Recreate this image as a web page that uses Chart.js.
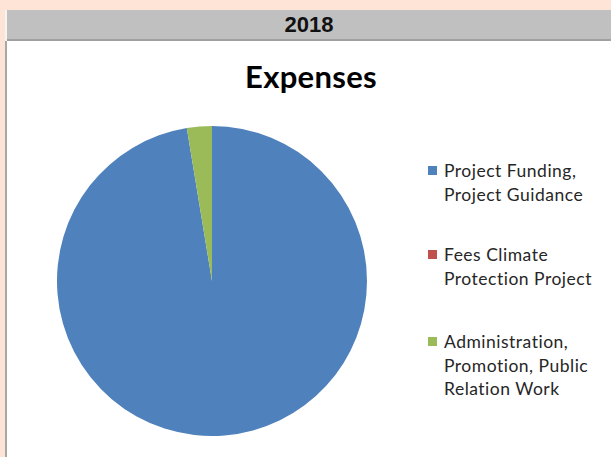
<!DOCTYPE html>
<html>
<head>
<meta charset="utf-8">
<script src="https://cdn.jsdelivr.net/npm/chart.js@4/dist/chart.umd.min.js"></script>
<style>
  html, body { margin: 0; padding: 0; }
  body { width: 611px; height: 457px; position: relative; overflow: hidden; background: #fde4d6; }
  #header { position: absolute; left: 7px; top: 10px; width: 604px; height: 29px; background: #c0c0c0;
    border-bottom: 2px solid #a0a0a0; font: bold 22px "Liberation Sans", Arial, sans-serif; color: #111;
    text-align: center; line-height: 29px; }
  #hedge { position: absolute; left: 5px; top: 10px; width: 2px; height: 31px; background: #f4f4f4; }
  #panel { position: absolute; left: 5px; top: 41px; width: 606px; height: 416px; background: #fff;
    border-left: 2px solid #a8a8a8; box-sizing: border-box; }
  #title { position: absolute; left: 0; width: 622px; top: 57px; text-align: center;
    font: bold 31px Lato, "Noto Sans", sans-serif; color: #000; letter-spacing: 0.3px; }
  #wrap { position: absolute; left: 52px; top: 121px; width: 320px; height: 320px; }
  #legend { position: absolute; left: 428px; top: 0; width: 183px; font: 17.5px Lato, "Noto Sans", sans-serif;
    color: #262626; letter-spacing: 0.5px; font-variant-ligatures: none; }
  .item { position: absolute; left: 0; width: 183px; }
  .box { position: absolute; left: 0; width: 9px; height: 9px; }
  .txt { position: absolute; left: 16px; line-height: 23.5px; white-space: nowrap; }
</style>
</head>
<body>
<div id="header">2018</div>
<div id="hedge"></div>
<div id="panel"></div>
<div id="title">Expenses</div>
<div id="wrap"><canvas id="c"></canvas></div>
<div id="legend"></div>
<script>
const categories = [
  ["Project Funding,", "Project Guidance"],
  ["Fees Climate", "Protection Project"],
  ["Administration,", "Promotion, Public", "Relation Work"]
];
const values = [97.4, 0, 2.6];
const colors = ["#4f81bd", "#c0504d", "#9bbb59"];
const legendTops = [159, 243, 330];

new Chart(document.getElementById("c"), {
  type: "pie",
  data: {
    labels: categories.map(l => l.join(" ")),
    datasets: [{ data: values, backgroundColor: colors, borderWidth: 0 }]
  },
  options: {
    responsive: true,
    maintainAspectRatio: false,
    animation: false,
    layout: { padding: 5 },
    plugins: { legend: { display: false }, tooltip: { enabled: false }, title: { display: false } }
  }
});

const lg = document.getElementById("legend");
categories.forEach((lines, i) => {
  const it = document.createElement("div");
  it.className = "item";
  it.style.top = legendTops[i] + "px";
  const b = document.createElement("div");
  b.className = "box";
  b.style.background = colors[i];
  b.style.top = "7px";
  const t = document.createElement("div");
  t.className = "txt";
  t.style.top = "0px";
  t.innerHTML = lines.join("<br>");
  it.appendChild(b); it.appendChild(t);
  lg.appendChild(it);
});
</script>
</body>
</html>
